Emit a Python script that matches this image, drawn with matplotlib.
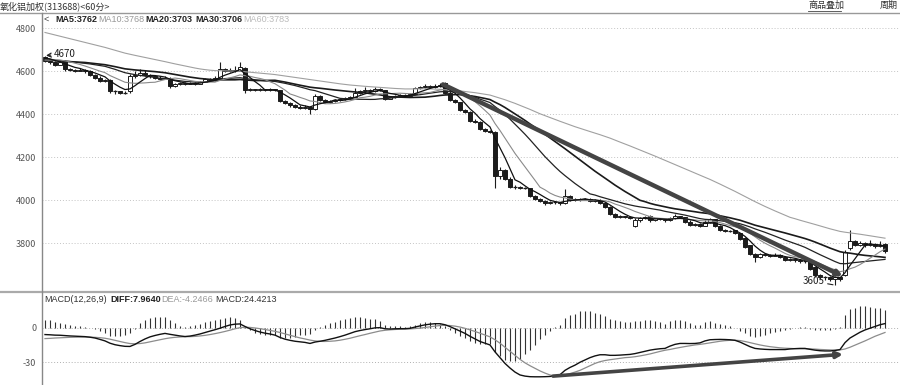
import numpy as np
import pandas as pd
import matplotlib.pyplot as plt
from matplotlib.patches import Rectangle
from matplotlib.lines import Line2D

plt.rcParams['font.family'] = ['Noto Sans CJK SC', 'DejaVu Sans']

# closes before the first visible bar (only used for the moving averages)
warmup_close = [4990, 4985, 4975, 4970, 4960, 4955, 4950, 4940, 4935, 4930,
                4925, 4920, 4915, 4910, 4905, 4900, 4895, 4890, 4885, 4880,
                4875, 4870, 4865, 4860, 4855, 4850, 4845, 4840, 4835, 4830,
                4820, 4800, 4760, 4720, 4680,
                4650, 4640, 4635, 4645, 4655, 4650, 4640, 4630, 4635, 4645,
                4650, 4655, 4660, 4650, 4645, 4640, 4635, 4630, 4640, 4650,
                4655, 4660, 4665, 4670, 4660]

opens = [4665, 4645, 4640, 4630, 4648, 4610, 4605, 4600, 4605, 4600,
         4580, 4570, 4555, 4560, 4505, 4505, 4500, 4505, 4575, 4580,
         4590, 4580, 4575, 4570, 4565, 4570, 4530, 4540, 4545, 4540,
         4545, 4540, 4550, 4565, 4560, 4570, 4610, 4600, 4605, 4600,
         4615, 4510, 4515, 4510, 4515, 4510, 4515, 4510, 4460, 4450,
         4440, 4435, 4430, 4435, 4425, 4485, 4465, 4455, 4460, 4465,
         4470, 4475, 4480, 4500, 4505, 4510, 4505, 4515, 4510, 4470,
         4480, 4485, 4490, 4485, 4495, 4520, 4525, 4530, 4525, 4530,
         4545, 4500, 4465, 4455, 4420, 4410, 4370, 4365, 4330, 4320,
         4315, 4110, 4140, 4100, 4060, 4060, 4055, 4055, 4020, 4005,
         3995, 3985, 3990, 3990, 3985, 4020, 4000, 4005, 4000, 4005,
         3995, 4000, 3985, 3970, 3935, 3920, 3925, 3920, 3880, 3905,
         3915, 3925, 3905, 3915, 3910, 3905, 3915, 3925, 3920, 3900,
         3885, 3890, 3880, 3900, 3910, 3880, 3860, 3855, 3860, 3845,
         3825, 3790, 3750, 3735, 3750, 3745, 3740, 3745, 3735, 3720,
         3725, 3720, 3715, 3715, 3690, 3650, 3640, 3640, 3635, 3640,
         3650, 3775, 3810, 3790, 3800, 3790, 3795, 3785, 3795]
highs = [4672, 4650, 4645, 4650, 4652, 4615, 4610, 4612, 4608, 4603,
         4585, 4575, 4565, 4562, 4512, 4508, 4506, 4585, 4600, 4610,
         4605, 4585, 4580, 4575, 4578, 4572, 4545, 4550, 4548, 4550,
         4548, 4555, 4570, 4568, 4575, 4640, 4615, 4612, 4625, 4640,
         4620, 4520, 4518, 4520, 4518, 4520, 4518, 4512, 4465, 4455,
         4445, 4440, 4440, 4438, 4492, 4488, 4470, 4465, 4470, 4475,
         4480, 4485, 4520, 4510, 4525, 4515, 4528, 4520, 4512, 4485,
         4490, 4495, 4493, 4500, 4525, 4530, 4540, 4535, 4540, 4545,
         4548, 4505, 4470, 4458, 4425, 4412, 4375, 4368, 4335, 4325,
         4320, 4155, 4145, 4105, 4068, 4065, 4062, 4058, 4025, 4010,
         3998, 3995, 3995, 3993, 4050, 4022, 4010, 4008, 4010, 4008,
         4005, 4003, 3990, 3972, 3940, 3930, 3928, 3925, 3915, 3920,
         3925, 3930, 3918, 3918, 3912, 3920, 3935, 3928, 3922, 3905,
         3895, 3893, 3905, 3918, 3912, 3882, 3865, 3860, 3862, 3848,
         3830, 3792, 3755, 3755, 3755, 3750, 3752, 3748, 3738, 3730,
         3728, 3725, 3720, 3718, 3692, 3655, 3648, 3645, 3645, 3642,
         3770, 3860, 3815, 3810, 3805, 3815, 3800, 3810, 3798]
lows = [4640, 4632, 4625, 4628, 4600, 4598, 4595, 4598, 4590, 4575,
        4565, 4550, 4548, 4498, 4495, 4492, 4495, 4500, 4570, 4575,
        4575, 4570, 4565, 4560, 4562, 4520, 4528, 4535, 4535, 4538,
        4535, 4538, 4548, 4555, 4555, 4568, 4595, 4595, 4595, 4598,
        4500, 4505, 4505, 4506, 4505, 4505, 4505, 4455, 4445, 4435,
        4430, 4425, 4425, 4400, 4420, 4460, 4450, 4452, 4455, 4460,
        4465, 4470, 4478, 4495, 4500, 4500, 4502, 4505, 4465, 4468,
        4475, 4480, 4480, 4482, 4492, 4515, 4520, 4520, 4522, 4525,
        4495, 4460, 4450, 4415, 4405, 4365, 4360, 4325, 4315, 4312,
        4055, 4100, 4095, 4055, 4052, 4050, 4050, 4015, 3998, 3990,
        3975, 3980, 3982, 3978, 3982, 3995, 3995, 3995, 3998, 3990,
        3992, 3980, 3965, 3930, 3915, 3915, 3915, 3910, 3875, 3900,
        3910, 3900, 3902, 3905, 3900, 3902, 3912, 3915, 3895, 3878,
        3880, 3875, 3878, 3895, 3875, 3855, 3850, 3850, 3840, 3815,
        3775, 3745, 3710, 3730, 3740, 3735, 3738, 3730, 3715, 3715,
        3712, 3708, 3705, 3675, 3640, 3632, 3630, 3625, 3605, 3625,
        3645, 3770, 3785, 3785, 3780, 3785, 3775, 3780, 3755]
closes = [4645, 4640, 4630, 4640, 4610, 4605, 4600, 4605, 4600, 4580,
          4570, 4555, 4560, 4505, 4505, 4500, 4500, 4575, 4580, 4590,
          4580, 4575, 4570, 4565, 4570, 4530, 4540, 4545, 4540, 4545,
          4540, 4550, 4565, 4560, 4570, 4610, 4600, 4605, 4600, 4620,
          4510, 4515, 4510, 4515, 4510, 4515, 4510, 4460, 4450, 4440,
          4435, 4430, 4435, 4425, 4485, 4465, 4455, 4460, 4465, 4470,
          4475, 4480, 4500, 4505, 4510, 4505, 4515, 4510, 4470, 4480,
          4485, 4490, 4485, 4495, 4520, 4525, 4530, 4525, 4530, 4535,
          4500, 4465, 4455, 4420, 4410, 4370, 4365, 4330, 4320, 4315,
          4110, 4140, 4100, 4060, 4060, 4055, 4055, 4020, 4005, 3995,
          3985, 3990, 3990, 3985, 4020, 4000, 4005, 4000, 4005, 3995,
          4000, 3985, 3970, 3935, 3920, 3925, 3920, 3915, 3905, 3915,
          3920, 3905, 3915, 3910, 3905, 3915, 3925, 3920, 3900, 3885,
          3890, 3880, 3900, 3910, 3880, 3860, 3855, 3855, 3845, 3820,
          3780, 3750, 3735, 3750, 3745, 3740, 3745, 3735, 3720, 3725,
          3720, 3715, 3715, 3680, 3650, 3640, 3640, 3635, 3640, 3635,
          3760, 3810, 3790, 3800, 3790, 3795, 3785, 3790, 3765]

diff = [-6.0, -6.2, -6.5, -6.6, -6.9, -7.2, -7.4, -7.6, -7.8, -8.3,
        -9.0, -10.2, -11.5, -13.5, -14.8, -15.6, -16.2, -16.3, -14.5, -12.0,
        -9.8, -8.0, -6.8, -5.8, -5.0, -5.8, -6.5, -7.2, -7.7, -7.3,
        -6.5, -5.5, -4.2, -3.0, -1.8, -0.5, 1.0, 2.3, 3.0, 3.2,
        1.0, -1.0, -2.5, -3.8, -4.8, -5.5, -6.5, -8.5, -10.0, -11.0,
        -11.8, -12.3, -12.8, -13.7, -12.5, -11.8, -11.0, -10.0, -9.0, -7.8,
        -6.5, -5.0, -3.5, -2.5, -1.7, -1.0, -0.2, 0.0, -1.0, -1.2,
        -1.0, -0.9, -0.9, -0.6, 0.5, 1.5, 2.4, 3.0, 3.4, 3.4,
        2.5, 0.9, -1.0, -3.0, -5.0, -7.5, -9.8, -12.0, -13.5, -15.0,
        -21.0, -26.0, -31.0, -35.0, -38.5, -41.0, -42.0, -42.5, -42.6, -42.6,
        -42.5, -42.3, -41.8, -40.8, -37.0, -34.5, -32.5, -30.0, -28.0, -26.0,
        -24.5, -23.5, -23.5, -24.0, -24.0, -23.8, -23.5, -23.2, -22.5, -21.5,
        -20.5, -19.5, -18.8, -18.3, -18.0, -16.0, -14.5, -13.7, -13.7, -13.8,
        -13.7, -13.2, -11.5, -10.5, -10.3, -10.2, -10.3, -10.5, -11.0, -12.5,
        -14.5, -16.5, -18.0, -18.5, -18.8, -19.0, -19.0, -19.0, -19.0, -18.5,
        -18.2, -18.0, -18.0, -18.8, -19.5, -20.0, -20.2, -20.2, -19.8, -19.0,
        -13.0, -9.0, -6.5, -4.0, -2.0, -0.5, 1.0, 2.5, 3.5]
dea = [-9.5, -9.3, -9.0, -8.8, -8.6, -8.4, -8.3, -8.2, -8.1, -8.2,
       -8.4, -8.7, -9.2, -10.0, -11.0, -12.0, -13.0, -13.8, -14.0, -13.8,
       -13.2, -12.3, -11.4, -10.5, -9.6, -8.9, -8.4, -8.1, -7.9, -7.8,
       -7.6, -7.2, -6.7, -6.0, -5.2, -4.3, -3.3, -2.2, -1.0, 0.0,
       0.3, 0.2, -0.3, -0.9, -1.6, -2.4, -3.2, -4.2, -5.4, -6.6,
       -7.8, -8.9, -9.8, -10.8, -11.5, -11.9, -12.0, -11.8, -11.5, -10.9,
       -10.1, -9.2, -8.1, -7.0, -6.0, -4.9, -3.9, -2.9, -2.3, -1.9,
       -1.6, -1.4, -1.3, -1.1, -0.8, -0.4, 0.1, 0.7, 1.3, 1.8,
       2.0, 1.8, 1.3, 0.5, -0.6, -1.9, -3.3, -4.8, -6.4, -8.0,
       -10.5, -13.5, -17.0, -20.5, -24.0, -27.5, -30.5, -33.0, -35.2, -37.5,
       -39.4, -41.0, -42.0, -42.0, -41.0, -39.8, -38.5, -37.0, -35.0, -33.0,
       -31.0, -29.5, -28.5, -27.8, -27.2, -26.6, -26.0, -25.7, -25.2, -24.5,
       -23.7, -22.8, -21.7, -20.6, -19.6, -18.9, -18.0, -17.2, -16.4, -15.7,
       -15.0, -14.5, -13.9, -13.2, -12.5, -11.8, -11.3, -11.0, -10.9, -11.2,
       -12.0, -13.0, -14.0, -15.0, -15.8, -16.5, -17.0, -17.5, -17.8, -18.0,
       -18.2, -18.3, -18.3, -18.4, -18.6, -18.9, -19.1, -19.3, -19.4, -19.3,
       -18.5, -17.0, -15.2, -13.5, -11.5, -9.5, -7.5, -5.8, -4.2]

price_ticks = [3800, 4000, 4200, 4400, 4600, 4800]
macd_ticks = [0, -30]
macd_labels = ['0', '-30']

n = len(closes)
x = np.arange(n)
allc = pd.Series(warmup_close + closes)
ma = {k: allc.rolling(k).mean().to_numpy()[len(warmup_close):] for k in (5, 10, 20, 30, 60)}
hist = 2 * (np.array(diff) - np.array(dea))

W, H = 900, 385
fig = plt.figure(figsize=(9, 3.85), dpi=100)
ax1 = fig.add_axes([42 / W, 1 - 291 / H, 858 / W, 278 / H])
ax2 = fig.add_axes([42 / W, 0, 858 / W, 92 / H])

dark = '#1c1c1c'
for i in range(n):
    o, h, l, c = opens[i], highs[i], lows[i], closes[i]
    ax1.vlines(i, l, h, color=dark, lw=0.8, zorder=2)
    lo, hgt = min(o, c), abs(c - o)
    if hgt < 3:
        ax1.hlines(o, i - 0.35, i + 0.35, color=dark, lw=0.9, zorder=3)
    else:
        fc = dark if c < o else 'white'
        ax1.add_patch(Rectangle((i - 0.35, lo), 0.7, hgt, facecolor=fc,
                                edgecolor=dark, lw=0.7, zorder=3))

ax1.plot(x, ma[60], color='#a0a0a0', lw=0.8, zorder=4)
ax1.plot(x, ma[30], color='#1a1a1a', lw=1.2, zorder=4)
ax1.plot(x, ma[20], color='#222', lw=0.9, zorder=4)
ax1.plot(x, ma[10], color='#8a8a8a', lw=0.8, zorder=4)
ax1.plot(x, ma[5], color='#111', lw=0.9, zorder=4)

# hand-drawn trend line
ax1.annotate('', xy=(159.6, 3645), xytext=(79.6, 4538),
             arrowprops=dict(arrowstyle='-|>', color='#444', lw=3.2,
                             mutation_scale=7, shrinkA=0, shrinkB=0), zorder=5)
ax1.annotate('4670', xy=(0.2, 4672), xytext=(1.7, 4680), fontsize=7, va='center',
             color='#222', arrowprops=dict(arrowstyle='->', color='#222', lw=0.9,
                                           shrinkA=0, shrinkB=0))
ax1.annotate('3605', xy=(157.6, 3606), xytext=(151.6, 3622), fontsize=7, va='center',
             color='#222', arrowprops=dict(arrowstyle='-', color='#222', lw=0.8,
                                           shrinkA=0, shrinkB=0))

ax1.set_xlim(-0.6, 171.0)
ax1.set_ylim(3577, 4870)
ax1.set_yticks(price_ticks)
ax1.set_yticklabels([str(t) for t in price_ticks])
ax1.grid(axis='y', linestyle=(0, (1, 2)), color='#c4c4c4', lw=0.7)

ax2.vlines(x, 0, hist, color='#333', lw=0.8)
ax2.plot(x, dea, color='#8c8c8c', lw=0.9)
ax2.plot(x, diff, color='#111', lw=1.0)
ax2.annotate('', xy=(159.6, -23.1), xytext=(101.6, -42.0),
             arrowprops=dict(arrowstyle='-|>', color='#444', lw=2.6,
                             mutation_scale=9, shrinkA=0, shrinkB=0))
ax2.set_xlim(-0.6, 171.0)
ax2.set_ylim(-49.7, 30)
ax2.set_yticks(macd_ticks)
ax2.set_yticklabels(macd_labels)
ax2.grid(axis='y', linestyle=(0, (1, 2)), color='#b0b0b0', lw=0.7)

for ax in (ax1, ax2):
    for s in ['top', 'bottom', 'left', 'right']:
        ax.spines[s].set_visible(False)
    ax.set_xticks([])
    ax.tick_params(axis='y', length=0, pad=4, labelsize=6.5, labelcolor='#555')
    ax.set_facecolor('none')


def px(xp, yp):
    return xp / W, 1 - yp / H


fig.add_artist(Line2D([0, 1], [1 - 13 / H] * 2, color='#999', lw=1.0))
fig.add_artist(Line2D([0, 1], [1 - 291.5 / H] * 2, color='#aaa', lw=1.6))
fig.add_artist(Line2D([42 / W] * 2, [0, 1 - 13 / H], color='#888', lw=1.0))
fig.add_artist(Line2D([808 / W, 841 / W], [1 - 11 / H] * 2, color='#444', lw=0.6))

fig.text(*px(0, 6), '氧化铝加权(313688)<60分>', fontsize=6.5, va='center', color='#333')
fig.text(*px(808, 5.5), '商品叠加', fontsize=6.5, va='center', color='#333')
fig.text(*px(880, 5.5), '周期', fontsize=6.5, va='center', color='#333')

hdr = [(44, '<', '#444', 'normal'), (55, 'MA5:3762', '#222', 'bold'),
       (98, 'MA10:3768', '#999', 'normal'), (145, 'MA20:3703', '#222', 'bold'),
       (195, 'MA30:3706', '#222', 'bold'), (243, 'MA60:3783', '#bbb', 'normal')]
for xp, t, col, fw in hdr:
    fig.text(*px(xp, 19.5), t, fontsize=6.5, va='center', color=col, fontweight=fw,
             family='Liberation Sans')

mhdr = [(44, 'MACD(12,26,9)', '#333', 'normal'), (110, 'DIFF:7.9640', '#222', 'bold'),
        (161, 'DEA:-4.2466', '#999', 'normal'), (215, 'MACD:24.4213', '#333', 'normal')]
for xp, t, col, fw in mhdr:
    fig.text(*px(xp, 300), t, fontsize=6.5, va='center', color=col, fontweight=fw,
             family='Liberation Sans')

plt.savefig('out.png')
